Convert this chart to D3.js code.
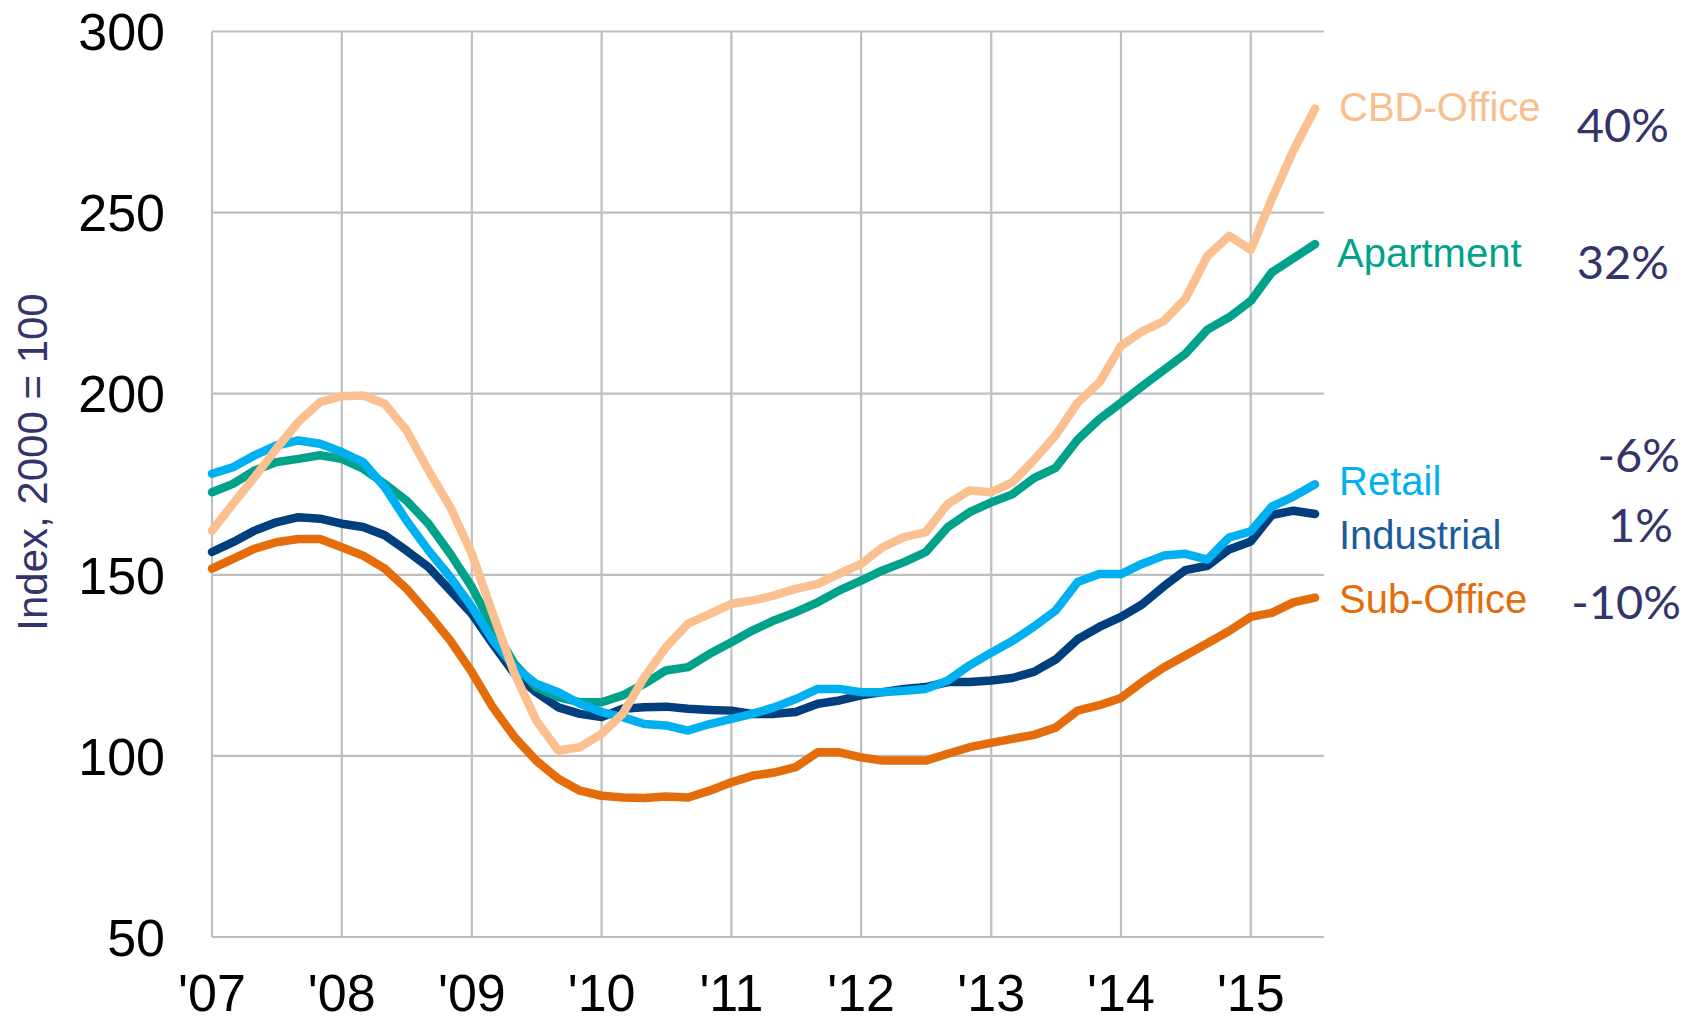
<!DOCTYPE html>
<html>
<head>
<meta charset="utf-8">
<script src="https://cdn.jsdelivr.net/npm/d3@7"></script>
<title>Commercial property price index</title>
<style>
  body { margin: 0; background: #fff; }
  svg { display: block; }
</style>
</head>
<body>
<div id="chart"></div>
<script>
// bi-monthly readings, Jan 2007 .. Jul 2015
var periods = ["2007-01","2007-03","2007-05","2007-07","2007-09","2007-11",
  "2008-01","2008-03","2008-05","2008-07","2008-09","2008-11",
  "2009-01","2009-03","2009-05","2009-07","2009-09","2009-11",
  "2010-01","2010-03","2010-05","2010-07","2010-09","2010-11",
  "2011-01","2011-03","2011-05","2011-07","2011-09","2011-11",
  "2012-01","2012-03","2012-05","2012-07","2012-09","2012-11",
  "2013-01","2013-03","2013-05","2013-07","2013-09","2013-11",
  "2014-01","2014-03","2014-05","2014-07","2014-09","2014-11",
  "2015-01","2015-03","2015-05","2015-07"];

var subOffice = [151.7,154.4,157.2,159,159.9,159.9,157.6,155.3,151.7,146.2,139.2,131.9,
  123.1,113.4,105.2,98.7,93.7,90.4,89,88.5,88.4,88.8,88.5,90.4,
  92.7,94.5,95.4,96.9,101,101,99.6,98.7,98.7,98.7,100.6,102.4,
  103.6,104.7,105.8,107.8,112.5,114,116,120.4,124.4,127.7,131.1,134.5,
  138.4,139.5,142.4,143.7];

var industrial = [156.3,159,162.2,164.5,165.9,165.5,164.1,163.2,160.9,156.7,152.1,145.7,
  139.2,130.9,122.7,117.6,113.4,111.6,110.7,113,113.4,113.6,113,112.7,
  112.5,111.6,111.6,112.1,114.4,115.3,116.7,117.6,118.5,119,120.4,120.4,
  120.8,121.5,123.2,126.6,132.2,135.6,138.4,141.8,146.8,151.3,152.5,157,
  159.2,166.5,167.7,166.8];

var apartment = [172.8,175.1,178.8,181.1,182,183,182,179.3,175.1,170.5,164.1,155.8,
  146.6,135.5,125.4,119,116.2,114.8,114.8,116.7,119.9,123.6,124.5,128.2,
  131.4,134.6,137.4,139.7,142.4,145.7,148.4,151.2,153.5,156.3,163.2,167.3,
  170,172.2,176.7,179.5,187.3,193,197.5,202,206.5,211,217.7,221.1,
  225.6,233.5,237.4,241.3];

var retail = [177.9,179.7,183,185.7,187.1,186.2,183.9,181.1,174.2,165,156.7,149.4,
  141.1,131.9,124.5,119.9,117.6,114.4,112.1,110.7,108.8,108.4,107,108.8,
  110.2,111.6,113.4,115.7,118.5,118.5,117.6,117.6,118,118.5,120.8,125,
  128.5,131.7,135.7,140.1,148,150.2,150.2,153,155.3,155.8,154.2,160.3,
  162,168.8,171.6,175];

var cbdOffice = [162.2,169.6,177,184.8,192.2,197.7,199.3,199.5,197.2,189.9,178.8,168.7,
  155.8,139.2,122.7,109.8,101.5,102.4,106.1,111.6,121.7,130,136.5,139.2,
  142,142.9,144.3,146.1,147.5,150.3,153,157.6,160.4,161.8,169.6,173.3,
  172.8,175.5,181.7,188.5,197.5,203.1,213.2,217.2,220,226.2,238,243.6,
  239.7,253.7,267.2,278.7];

var seriesNames = ["Sub-Office", "Industrial", "Apartment", "Retail", "CBD-Office"];
var changeLabels = ["-10%", "1%", "32%", "-6%", "40%"];
var yTicks = [50, 100, 150, 200, 250, 300];
var xYears = [2007, 2008, 2009, 2010, 2011, 2012, 2013, 2014, 2015];
var yTitle = "Index, 2000 = 100";

(function(){
  var W = 1696, H = 1023;
  var left = 212, right = 1324, top = 31.5, bottom = 937;

  var parse = d3.timeParse("%Y-%m");
  var dates = periods.map(parse);
  var values = [subOffice, industrial, apartment, retail, cbdOffice];

  var lineColors = ["#E46C0A", "#003F7D", "#00A389", "#00B0F0", "#FAC090"];
  var textColors = ["#E46C0A", "#1B5C9C", "#00A389", "#00B0F0", "#F9BE8E"];
  // label spots: [name x, name baseline, pct right edge, pct baseline]
  var labelSpots = [[1339, 613, 1681, 619], [1339, 549, 1673, 542],
                    [1337, 267, 1669, 279], [1339, 495, 1680, 472],
                    [1339, 121, 1669, 142]];

  var x = d3.scaleTime()
      .domain([new Date(2007, 0, 1), new Date(2015, 6, 26)])
      .range([left, right]);
  var y = d3.scaleLinear().domain([50, 300]).range([bottom, top]);

  var svg = d3.select("#chart").append("svg")
      .attr("width", W).attr("height", H);

  var grid = svg.append("g").attr("stroke", "#BFBFBF").attr("stroke-width", 2.2);
  grid.selectAll("line.h").data(yTicks).enter().append("line")
      .attr("class", "h")
      .attr("x1", left).attr("x2", right)
      .attr("y1", function(d){ return y(d); }).attr("y2", function(d){ return y(d); });
  grid.selectAll("line.v").data(xYears).enter().append("line")
      .attr("class", "v")
      .attr("x1", function(d){ return x(new Date(d, 0, 1)); })
      .attr("x2", function(d){ return x(new Date(d, 0, 1)); })
      .attr("y1", top).attr("y2", bottom);

  svg.append("g").selectAll("text").data(yTicks).enter().append("text")
      .attr("x", 165).attr("y", function(d){ return y(d); })
      .attr("dy", "0.36em")
      .attr("text-anchor", "end")
      .style("font-family", "Liberation Sans, Arial, sans-serif")
      .style("font-size", "52px")
      .attr("fill", "#000")
      .text(function(d){ return d; });

  svg.append("g").selectAll("text").data(xYears).enter().append("text")
      .attr("x", function(d){ return x(new Date(d, 0, 1)); })
      .attr("y", 1011)
      .attr("text-anchor", "middle")
      .style("font-family", "Liberation Sans, Arial, sans-serif")
      .style("font-size", "52px")
      .attr("fill", "#000")
      .text(function(d){ return "'" + String(d).slice(2); });

  svg.append("text")
      .attr("transform", "translate(47,462) rotate(-90)")
      .attr("text-anchor", "middle")
      .style("font-family", "Liberation Sans, Arial, sans-serif")
      .style("font-size", "42px")
      .attr("fill", "#34346B")
      .text(yTitle);

  var line = d3.line()
      .x(function(d, i){ return x(dates[i]); })
      .y(function(d){ return y(d); });

  svg.append("g").selectAll("path").data(values).enter().append("path")
      .attr("d", line)
      .attr("fill", "none")
      .attr("stroke", function(d, i){ return lineColors[i]; })
      .attr("stroke-width", 8.5)
      .attr("stroke-linejoin", "round")
      .attr("stroke-linecap", "round");

  var labels = svg.append("g");
  seriesNames.forEach(function(name, i){
    var s = labelSpots[i];
    labels.append("text")
        .attr("x", s[0]).attr("y", s[1])
        .style("font-family", "Liberation Sans, Arial, sans-serif")
        .style("font-size", "40px")
        .attr("fill", textColors[i])
        .text(name);
    labels.append("text")
        .attr("x", s[2]).attr("y", s[3])
        .attr("text-anchor", "end")
        .style("font-family", "Lato, Open Sans, sans-serif")
        .style("font-size", "47px")
        .attr("fill", "#34346B")
        .text(changeLabels[i]);
  });
})();
</script>
</body>
</html>
